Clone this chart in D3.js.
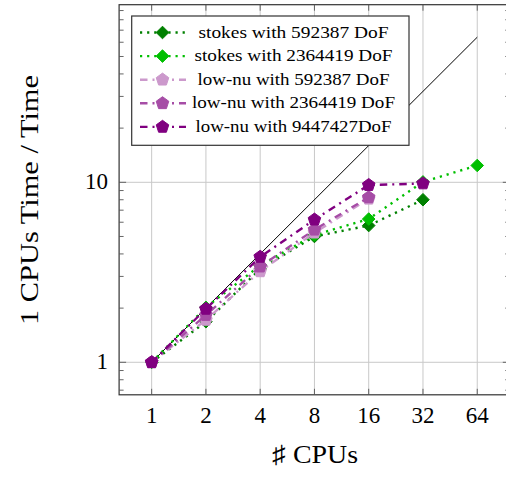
<!DOCTYPE html>
<html><head><meta charset="utf-8">
<script src="https://cdn.jsdelivr.net/npm/d3@7"></script>
<style>body{margin:0;background:#fff}svg{display:block}</style>
</head><body>
<svg id="c" width="506" height="477"></svg>
<script>
const xTicks = [1, 2, 4, 8, 16, 32, 64];
const xTickLabels = ["1", "2", "4", "8", "16", "32", "64"];
const yTicks = [1, 10];
const yTickLabels = ["1", "10"];
const idealX = [1, 64];
const idealY = [1, 64];

const s1x = [1, 2, 4, 8, 16, 32];
const s1y = [1, 1.68, 3.3, 5.0, 5.75, 8.0];
const s2x = [1, 2, 4, 8, 16, 32, 64];
const s2y = [1, 2.02, 3.45, 5.1, 6.25, 10.05, 12.4];
const l1x = [1, 2, 4, 8, 16];
const l1y = [1, 1.72, 3.2, 5.25, 8.1];
const l2x = [1, 2, 4, 8, 16];
const l2y = [1, 1.83, 3.4, 5.45, 8.25];
const l3x = [1, 2, 4, 8, 16, 32];
const l3y = [1, 1.98, 3.85, 6.2, 9.65, 9.85];
const seriesNames = ["stokes with 592387 DoF", "stokes with 2364419 DoF", "low-nu with 592387 DoF", "low-nu with 2364419 DoF", "low-nu with 9447427DoF"];

const svg = d3.select("#c");
const L = 119.1, R = 509.8, T = 4.7, B = 394.8;
const x = d3.scaleLog().base(2).domain([Math.pow(2, -0.6), Math.pow(2, 6.6)]).range([L, R]);
const y = d3.scaleLog().base(10).domain([Math.pow(10, -0.1806), Math.pow(10, 1.9867)]).range([B, T]);

const font = "'Liberation Serif', 'DejaVu Serif', serif";

svg.append("defs").append("clipPath").attr("id", "clip")
  .append("rect").attr("x", L).attr("y", T).attr("width", R - L).attr("height", B - T);

// grid
const grid = svg.append("g").attr("stroke", "#c8c8c8").attr("stroke-width", 1);
xTicks.forEach(t => grid.append("line").attr("x1", x(t)).attr("x2", x(t)).attr("y1", T).attr("y2", B));
yTicks.forEach(t => grid.append("line").attr("x1", L).attr("x2", R).attr("y1", y(t)).attr("y2", y(t)));

const plot = svg.append("g").attr("clip-path", "url(#clip)");
const line = d3.line().x(d => x(d[0])).y(d => y(d[1]));

plot.append("path").datum(idealX.map((v, i) => [v, idealY[i]]))
  .attr("d", line).attr("fill", "none").attr("stroke", "#000").attr("stroke-width", 1);

const series = [
  {xs: s1x, ys: s1y, color: "#008000", dash: "2.2 4.9", mark: "diamond"},
  {xs: s2x, ys: s2y, color: "#00bf00", dash: "2.2 4.9", mark: "diamond"},
  {xs: l1x, ys: l1y, color: "#cc99cc", dash: "7.5 5 2 5", mark: "pentagon"},
  {xs: l2x, ys: l2y, color: "#a64da6", dash: "7.5 5 2 5", mark: "pentagon"},
  {xs: l3x, ys: l3y, color: "#800080", dash: "7.5 5 2 5", mark: "pentagon"}
];

function markPath(type, cx, cy) {
  if (type === "diamond") {
    const r = 6.3;
    return `M${cx},${cy - r}L${cx + r},${cy}L${cx},${cy + r}L${cx - r},${cy}Z`;
  }
  const r = 6.6;
  let p = "";
  for (let k = 0; k < 5; k++) {
    const a = -Math.PI / 2 + k * 2 * Math.PI / 5;
    p += (k ? "L" : "M") + (cx + r * Math.cos(a)).toFixed(2) + "," + (cy + r * Math.sin(a)).toFixed(2);
  }
  return p + "Z";
}

series.forEach(s => {
  const data = s.xs.map((v, i) => [v, s.ys[i]]);
  plot.append("path").datum(data).attr("d", line).attr("fill", "none")
    .attr("stroke", s.color).attr("stroke-width", 2.4).attr("stroke-dasharray", s.dash);
  plot.selectAll(null).data(data).enter().append("path")
    .attr("d", d => markPath(s.mark, x(d[0]), y(d[1])))
    .attr("fill", s.color).attr("stroke", s.color).attr("stroke-width", 1);
});

// frame
svg.append("rect").attr("x", L).attr("y", T).attr("width", R - L).attr("height", B - T)
  .attr("fill", "none").attr("stroke", "#333").attr("stroke-width", 1.2);

// ticks
const tk = svg.append("g").attr("stroke", "#555").attr("stroke-width", 0.9);
xTicks.forEach(t => {
  tk.append("line").attr("x1", x(t)).attr("x2", x(t)).attr("y1", B).attr("y2", B - 6);
  tk.append("line").attr("x1", x(t)).attr("x2", x(t)).attr("y1", T).attr("y2", T + 6);
});
const minorY = [];
[0.1, 1, 10].forEach(d => { for (let k = 2; k <= 9; k++) minorY.push(k * d); });
minorY.filter(v => v >= y.domain()[0] && v <= y.domain()[1]).forEach(v => {
  tk.append("line").attr("x1", L).attr("x2", L + 4.5).attr("y1", y(v)).attr("y2", y(v));
  tk.append("line").attr("x1", R).attr("x2", R - 4.5).attr("y1", y(v)).attr("y2", y(v));
});
yTicks.forEach(t => {
  tk.append("line").attr("x1", L).attr("x2", L + 7).attr("y1", y(t)).attr("y2", y(t));
  tk.append("line").attr("x1", R).attr("x2", R - 7).attr("y1", y(t)).attr("y2", y(t));
});

// tick labels
svg.append("g").selectAll("text").data(xTicks).enter().append("text")
  .attr("x", d => x(d)).attr("y", 423).attr("text-anchor", "middle")
  .attr("font-family", font).attr("font-size", 23).attr("fill", "#000")
  .text((d, i) => xTickLabels[i]);
svg.append("g").selectAll("text").data(yTicks).enter().append("text")
  .attr("x", 108).attr("y", d => y(d) + 7).attr("text-anchor", "end")
  .attr("font-family", font).attr("font-size", 23).attr("fill", "#000")
  .text((d, i) => yTickLabels[i]);

// axis labels
svg.append("text").attr("x", 315).attr("y", 463).attr("text-anchor", "middle")
  .attr("font-family", font).attr("font-size", 25).attr("fill", "#000")
  .attr("textLength", 86).attr("lengthAdjust", "spacingAndGlyphs")
  .text("♯ CPUs");
svg.append("text").attr("transform", "translate(38,200) rotate(-90)").attr("text-anchor", "middle")
  .attr("font-family", font).attr("font-size", 25).attr("fill", "#000")
  .attr("textLength", 250).attr("lengthAdjust", "spacingAndGlyphs")
  .text("1 CPUs Time / Time");

// legend
const lg = svg.append("g");
lg.append("rect").attr("x", 131.7).attr("y", 16).attr("width", 277.3).attr("height", 129.3)
  .attr("fill", "#fff").attr("stroke", "#333").attr("stroke-width", 1.2);
const textWidths = [190, 198, 192, 203, 196];
series.forEach((s, i) => {
  const cy = 32.5 + i * 23.6;
  lg.append("line").attr("x1", 140).attr("x2", 186).attr("y1", cy).attr("y2", cy)
    .attr("stroke", s.color).attr("stroke-width", 2.4).attr("stroke-dasharray", s.dash);
  lg.append("path").attr("d", markPath(s.mark, 162.5, cy)).attr("fill", s.color).attr("stroke", s.color);
  lg.append("text").attr("x", 293.5).attr("y", cy + 5).attr("text-anchor", "middle")
    .attr("font-family", font).attr("font-size", 16).attr("fill", "#000")
    .attr("textLength", textWidths[i]).attr("lengthAdjust", "spacingAndGlyphs")
    .text(seriesNames[i]);
});
</script>
</body></html>
